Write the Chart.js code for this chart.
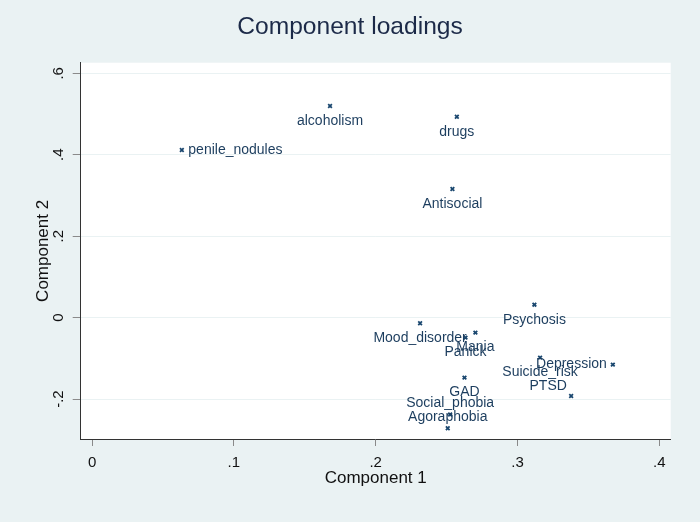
<!DOCTYPE html>
<html>
<head>
<meta charset="utf-8">
<script src="https://cdn.jsdelivr.net/npm/chart.js@4"></script>
<style>
  body { margin: 0; background: #eaf2f3; }
  #wrap { width: 700px; height: 522px; }
</style>
</head>
<body>
<div id="wrap"><canvas id="loadings" width="700" height="522"></canvas></div>
<script>
// component loadings
const variables = ['penile_nodules', 'alcoholism', 'drugs', 'Antisocial', 'Psychosis', 'Mood_disorder', 'Mania',
  'Panick', 'Depression', 'Suicide_risk', 'GAD', 'PTSD', 'Social_phobia', 'Agoraphobia'];
const component1 = [0.0633, 0.1678, 0.2572, 0.2541, 0.3119, 0.2313, 0.2703,
  0.2633, 0.3672, 0.3159, 0.2626, 0.3378, 0.2525, 0.2508];
const component2 = [0.4117, 0.5198, 0.4935, 0.3160, 0.0319, -0.0138, -0.0368,
  -0.0490, -0.1154, -0.0982, -0.1473, -0.1923, -0.2380, -0.2716];

const xTicks = [0, 0.1, 0.2, 0.3, 0.4];
const xTickLabels = ['0', '.1', '.2', '.3', '.4'];
const yTicks = [-0.2, 0, 0.2, 0.4, 0.6];
const yTickLabels = ['-.2', '0', '.2', '.4', '.6'];

// marker label position, stata clock style
const labelClock = [3, 6, 6, 6, 6, 6, 6, 6, 9, 6, 6, 10, 12, 12];

const FONT = '"Liberation Sans", Arial, sans-serif';
const navy = '#1a476f';

const clockOffset = {
  3: { dx: 6.5, dy: 0, align: 'left' },
  6: { dx: 0, dy: 15, align: 'center' },
  9: { dx: -6, dy: 0, align: 'right' },
  10: { dx: -4.3, dy: -10, align: 'right' },
  12: { dx: 0, dy: -11, align: 'center' }
};

const stataLook = {
  id: 'stataLook',
  beforeDraw(chart) {
    const { ctx, chartArea: a } = chart;
    ctx.save();
    ctx.fillStyle = '#eaf2f3';
    ctx.fillRect(0, 0, chart.width, chart.height);
    ctx.fillStyle = '#ffffff';
    ctx.fillRect(a.left, a.top, a.right - a.left, a.bottom - a.top);
    ctx.restore();
  },
  afterDraw(chart) {
    const { ctx } = chart;
    const xs = chart.scales.x;
    const ys = chart.scales.y;
    ctx.save();
    // rotated y tick labels
    ctx.font = '15px ' + FONT;
    ctx.fillStyle = '#111';
    ctx.textAlign = 'center';
    ctx.textBaseline = 'middle';
    yTicks.forEach((v, i) => {
      const py = ys.getPixelForValue(v);
      ctx.save();
      ctx.translate(ys.right - 21.7, py);
      ctx.rotate(-Math.PI / 2);
      ctx.fillText(yTickLabels[i], 0, 0);
      ctx.restore();
    });
    // marker labels
    ctx.font = '14px ' + FONT;
    ctx.fillStyle = '#1c3d5e';
    variables.forEach((name, i) => {
      const o = clockOffset[labelClock[i]];
      const px = xs.getPixelForValue(component1[i]);
      const py = ys.getPixelForValue(component2[i]);
      ctx.textAlign = o.align;
      ctx.fillText(name, px + o.dx, py + o.dy);
    });
    ctx.restore();
  }
};

new Chart(document.getElementById('loadings'), {
  type: 'scatter',
  data: {
    datasets: [{
      label: 'loadings',
      data: variables.map((v, i) => ({ x: component1[i], y: component2[i] })),
      pointStyle: 'crossRot',
      pointRadius: 2.6,
      borderWidth: 1.8,
      borderColor: navy,
      backgroundColor: navy
    }]
  },
  options: {
    responsive: false,
    devicePixelRatio: 1,
    animation: false,
    layout: { padding: 0 },
    plugins: {
      legend: { display: false },
      tooltip: { enabled: false },
      title: {
        display: true,
        text: 'Component loadings',
        color: '#1c2a48',
        font: { family: FONT, size: 24.6, weight: 'normal' },
        padding: { top: 12.7, bottom: 20.5 }
      }
    },
    scales: {
      x: {
        type: 'linear',
        min: -0.008,
        max: 0.408,
        afterBuildTicks: (s) => { s.ticks = xTicks.map(v => ({ value: v })); },
        afterFit: (s) => { s.height = 83; },
        ticks: {
          color: '#111',
          font: { family: FONT, size: 15 },
          padding: 8,
          maxRotation: 0,
          callback: (v) => xTickLabels[xTicks.indexOf(v)]
        },
        grid: { drawOnChartArea: false, drawTicks: true, tickLength: 7, tickColor: '#8a8a8a' },
        border: { display: true, color: '#333', width: 1 },
        title: {
          display: true,
          text: 'Component 1',
          color: '#111',
          font: { family: FONT, size: 17 },
          padding: { top: 0, bottom: 33.3 }
        }
      },
      y: {
        type: 'linear',
        min: -0.298,
        max: 0.626,
        afterBuildTicks: (s) => { s.ticks = yTicks.map(v => ({ value: v })); },
        afterFit: (s) => { s.width = 80.7; },
        ticks: { display: false },
        grid: { color: '#eaf2f3', lineWidth: 1, drawTicks: true, tickLength: 8, tickColor: '#8a8a8a' },
        border: { display: true, color: '#333', width: 1 },
        title: {
          display: true,
          text: 'Component 2',
          color: '#111',
          font: { family: FONT, size: 17 },
          padding: { top: 32.8, bottom: 0 }
        }
      },
      // empty right-hand margin so the title stays centred on the whole canvas
      gutter: {
        type: 'linear',
        position: 'right',
        afterFit: (s) => { s.width = 29.3; },
        ticks: { display: false },
        grid: { display: false, drawTicks: false },
        border: { display: false },
        title: { display: false }
      }
    }
  },
  plugins: [stataLook]
});
</script>
</body>
</html>
